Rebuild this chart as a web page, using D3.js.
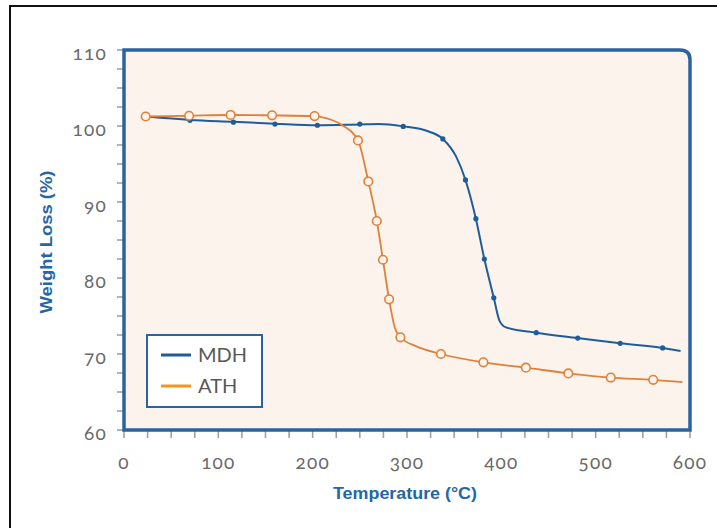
<!DOCTYPE html>
<html>
<head>
<meta charset="utf-8">
<script src="https://cdn.jsdelivr.net/npm/d3@7"></script>
<style>
  body { margin: 0; background: #fff; }
  svg { display: block; }
  .tick-label { font-family: Lato, "Open Sans", sans-serif; font-size: 19px; font-weight: 400; fill: #6a6a6a; letter-spacing: 1.2px; font-variant-numeric: oldstyle-nums; }
  .axis-title { font-family: "Liberation Sans", Arial, sans-serif; font-weight: bold; font-size: 17px; fill: #2466a6; }
  .legend-text { font-family: Lato, "Open Sans", sans-serif; font-size: 20px; font-weight: 400; fill: #585858; }
</style>
</head>
<body>
<div id="chart"></div>
<script>
// Data: [temperature, weight %]
var mdhLine = [[24,101.25],[70,100.8],[116,100.55],[160,100.3],[205,100.1],[250,100.2],[270,100.25],[296,99.95],
  [320,99.4],[338,98.3],[352,96],[362,92.9],[373,87.8],[382,82.5],[392,77.4],[398,74.4],[405,73.5],
  [437,72.8],[481,72.1],[526,71.4],[571,70.8],[590,70.4]];
var mdhMarks = [[70,100.75],[116,100.5],[160,100.25],[205,100.1],[250,100.25],[296,99.95],[338,98.3],
  [362,92.9],[373,87.8],[382,82.5],[392,77.4],[437,72.8],[481,72.1],[526,71.4],[571,70.8]];
var athLine = [[23,101.25],[69,101.35],[113,101.45],[157,101.4],[202,101.3],[215,101.0],[230,100.2],
  [248,98.1],[259,92.7],[268,87.5],[274.5,82.4],[281,77.2],[287,73.5],[293,72.2],[310,71],
  [336,70.0],[381,68.9],[426,68.2],[471,67.45],[516,66.9],[561,66.6],[592,66.3]];
var athMarks = [[23,101.25],[69,101.35],[113,101.45],[157,101.4],[202,101.3],[248,98.1],[259,92.7],
  [268,87.5],[274.5,82.4],[281,77.2],[293,72.2],[336,70.0],[381,68.9],[426,68.2],[471,67.45],[516,66.9],[561,66.6]];
var xTicks = [0,100,200,300,400,500,600];
var yTicks = [60,70,80,90,100,110];
var seriesNames = ["MDH","ATH"];

var W = 717, H = 528;
var blue = "#1f5c9c", orange = "#e0813a", frame = "#2a63a2";

var svg = d3.select("#chart").append("svg").attr("width", W).attr("height", H);

// outer frame of the picture
svg.append("path")
  .attr("d", "M10,529 L10,6 L718,6")
  .attr("fill", "none").attr("stroke", "#111").attr("stroke-width", 2);

var x = d3.scaleLinear().domain([0,600]).range([124,690]);
var y = d3.scaleLinear().domain([60,110]).range([430,50]);

var x0 = x(0), x1 = x(600), y0 = y(60), y1 = y(110), rr = 10;
var framePath = "M"+x0+","+y0+" L"+x0+","+y1+" L"+(x1-rr)+","+y1+" Q"+x1+","+y1+" "+x1+","+(y1+rr)+" L"+x1+","+y0+" Z";

// plot background
svg.append("path").attr("d", framePath).attr("fill", "#fcf3ec");

// minor / major ticks
var yMinor = d3.range(60, 110.01, 2.5);
svg.selectAll(".ytick").data(yMinor).enter().append("line")
  .attr("x1", x0 - 7).attr("x2", x0)
  .attr("y1", function(d){ return y(d); }).attr("y2", function(d){ return y(d); })
  .attr("stroke", "#9aa3ad").attr("stroke-width", 1.6);
var xMinor = d3.range(0, 600.01, 25);
svg.selectAll(".xtick").data(xMinor).enter().append("line")
  .attr("y1", y0).attr("y2", y0 + 8)
  .attr("x1", function(d){ return x(d); }).attr("x2", function(d){ return x(d); })
  .attr("stroke", "#9aa3ad").attr("stroke-width", 1.6);

svg.selectAll(".ylab").data(yTicks).enter().append("text")
  .attr("class", "tick-label")
  .attr("x", x0 - 17).attr("y", function(d){ return y(d) + 3; })
  .attr("dy", "0.35em").attr("text-anchor", "end")
  .text(function(d){ return d; });
svg.selectAll(".xlab").data(xTicks).enter().append("text")
  .attr("class", "tick-label")
  .attr("x", function(d){ return x(d); }).attr("y", y0 + 39)
  .attr("text-anchor", "middle")
  .text(function(d){ return d; });

// frame border
svg.append("path").attr("d", framePath)
  .attr("fill", "none").attr("stroke", frame).attr("stroke-width", 3.5);

// curves
var line = d3.line()
  .x(function(d){ return x(d[0]); })
  .y(function(d){ return y(d[1]); })
  .curve(d3.curveMonotoneX);

svg.append("path").datum(mdhLine).attr("d", line)
  .attr("fill", "none").attr("stroke", blue).attr("stroke-width", 2);
svg.append("path").datum(athLine).attr("d", line)
  .attr("fill", "none").attr("stroke", orange).attr("stroke-width", 1.8);

svg.selectAll(".mdh").data(mdhMarks).enter().append("circle")
  .attr("cx", function(d){ return x(d[0]); }).attr("cy", function(d){ return y(d[1]); })
  .attr("r", 2.6).attr("fill", blue);
svg.selectAll(".ath").data(athMarks).enter().append("circle")
  .attr("cx", function(d){ return x(d[0]); }).attr("cy", function(d){ return y(d[1]); })
  .attr("r", 4.3).attr("fill", "#fcf3ec").attr("stroke", orange).attr("stroke-width", 1.6);

// axis titles (narrow bold face, squeezed to the original width)
svg.append("text").attr("class", "axis-title")
  .attr("transform", "translate(52,242) rotate(-90)")
  .attr("text-anchor", "middle")
  .attr("textLength", 143).attr("lengthAdjust", "spacingAndGlyphs")
  .text("Weight Loss (%)");
svg.append("text").attr("class", "axis-title")
  .attr("x", 405).attr("y", 499)
  .attr("text-anchor", "middle")
  .attr("textLength", 144).attr("lengthAdjust", "spacingAndGlyphs")
  .text("Temperature (\u00b0C)");

// legend
var lg = svg.append("g").attr("transform", "translate(147,335)");
lg.append("rect").attr("width", 115).attr("height", 72)
  .attr("fill", "#fff").attr("stroke", frame).attr("stroke-width", 2);
var legColors = [blue, "#f7941d"];
seriesNames.forEach(function(name, i){
  var ly = 20 + i * 31;
  lg.append("line").attr("x1", 14).attr("x2", 44).attr("y1", ly).attr("y2", ly)
    .attr("stroke", legColors[i]).attr("stroke-width", 3);
  lg.append("text").attr("class", "legend-text")
    .attr("x", 51).attr("y", ly).attr("dy", "0.36em").text(name);
});
</script>
</body>
</html>
